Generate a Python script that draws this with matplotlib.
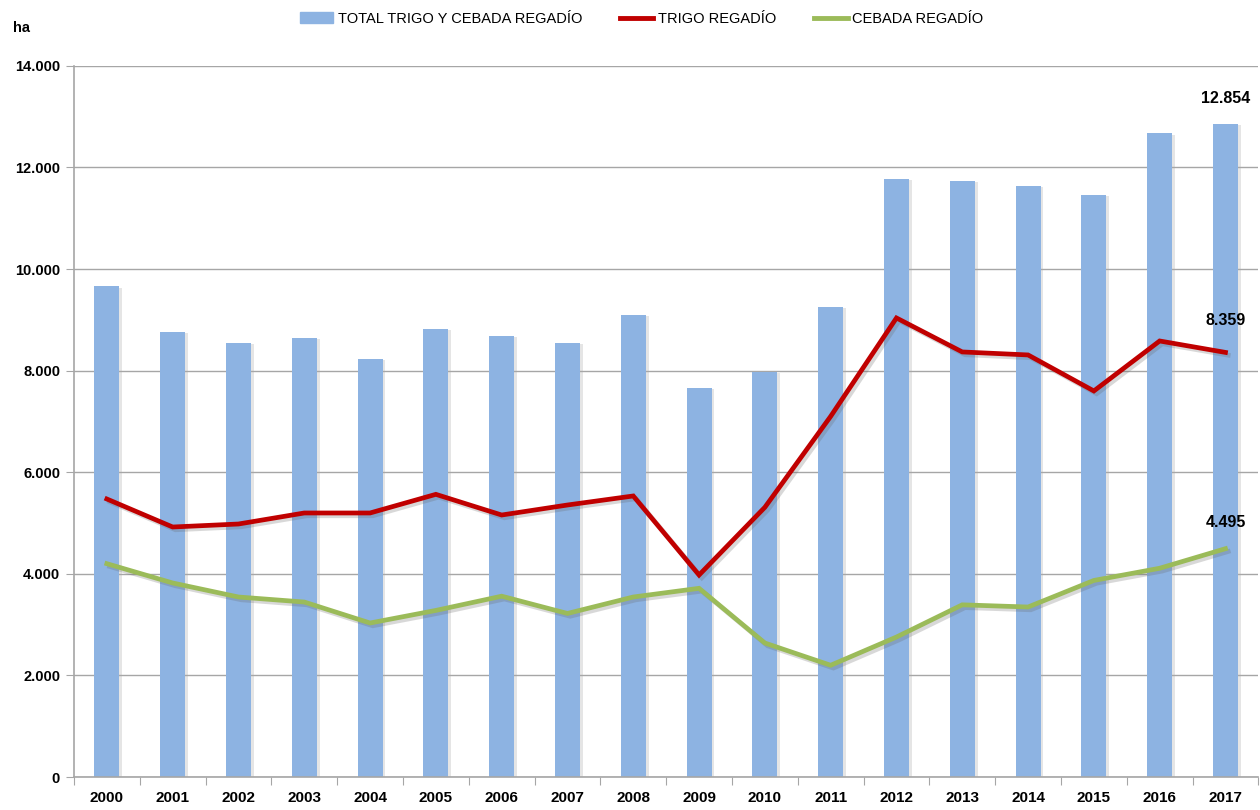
import numpy as np
import matplotlib
matplotlib.use('Agg')
import matplotlib.pyplot as plt
import matplotlib.patheffects as pe
from matplotlib.patches import Patch
from matplotlib.lines import Line2D
from matplotlib.ticker import FuncFormatter, FixedLocator

# datos (ha)
years = [str(y) for y in range(2000, 2018)]
total = [9660, 8770, 8545, 8643, 8230, 8820, 8690, 8545, 9096, 7660,
         7974, 9254, 11780, 11735, 11636, 11459, 12670, 12854]
trigo = [5473, 4922, 4981, 5198, 5198, 5565, 5158, 5355, 5533, 3977,
         5310, 7100, 9037, 8368, 8309, 7600, 8584, 8359]
cebada = [4200, 3820, 3544, 3445, 3032, 3280, 3560, 3220, 3544, 3715,
          2638, 2200, 2756, 3390, 3347, 3870, 4110, 4495]

c_total = '#8DB3E2'
c_trigo = '#C00000'
c_cebada = '#9BBB59'

plt.rcParams['font.family'] = ['Liberation Sans', 'DejaVu Sans']

fig = plt.figure(figsize=(12.6, 8.1), dpi=100)
ax = fig.add_axes([0.0587, 0.0407, 0.94, 0.878])

x = np.arange(len(years))
bar_shadow = [pe.SimplePatchShadow(offset=(2, -1), shadow_rgbFace='#aaaaaa', alpha=0.3), pe.Normal()]
line_shadow = [pe.SimpleLineShadow(offset=(2, -2), shadow_color='#666666', alpha=0.25), pe.Normal()]

bars = ax.bar(x, total, width=0.38, color=c_total, zorder=2)
for b in bars:
    b.set_path_effects(bar_shadow)
ax.plot(x, trigo, color=c_trigo, lw=3.4, zorder=3,
        path_effects=line_shadow, solid_joinstyle='miter')
ax.plot(x, cebada, color=c_cebada, lw=3.4, zorder=3,
        path_effects=line_shadow, solid_joinstyle='miter')

ax.set_xlim(-0.5, len(years) - 0.5)
ax.set_ylim(0, 14000)
ax.set_yticks(np.arange(0, 14001, 2000))
ax.yaxis.set_major_formatter(FuncFormatter(lambda v, p: f'{int(v):,}'.replace(',', '.')))
ax.grid(axis='y', color='#A6A6A6', lw=1, zorder=0)
ax.set_axisbelow(True)

ax.xaxis.set_major_locator(FixedLocator(np.arange(-0.5, len(years), 1)))
ax.xaxis.set_major_formatter(FuncFormatter(lambda v, p: ''))
ax.xaxis.set_minor_locator(FixedLocator(x))
ax.set_xticklabels(years, minor=True)
ax.tick_params(axis='x', which='major', length=6, color='#A6A6A6', direction='out')
ax.tick_params(axis='x', which='minor', length=0, pad=10, labelsize=11)
ax.tick_params(axis='y', length=6, color='#A6A6A6', pad=4, labelsize=10.5)
for lbl in ax.get_xticklabels(minor=True) + ax.get_yticklabels():
    lbl.set_fontweight('bold')

for s in ['top', 'right']:
    ax.spines[s].set_visible(False)
for s in ['left', 'bottom']:
    ax.spines[s].set_color('#A6A6A6')
    ax.spines[s].set_linewidth(1.2)

# etiquetas de 2017
def fmt(v):
    return f'{v:,}'.replace(',', '.')

ax.annotate(fmt(total[-1]), (x[-1], total[-1]), xytext=(0, 18), textcoords='offset pixels',
            ha='center', va='bottom', fontsize=11.5, fontweight='bold')
ax.annotate(fmt(trigo[-1]), (x[-1], trigo[-1]), xytext=(0, 24), textcoords='offset pixels',
            ha='center', va='bottom', fontsize=11.5, fontweight='bold')
ax.annotate(fmt(cebada[-1]), (x[-1], cebada[-1]), xytext=(0, 19), textcoords='offset pixels',
            ha='center', va='bottom', fontsize=11.5, fontweight='bold')

fig.text(0.01, 0.965, 'ha', fontsize=10.5, fontweight='bold', va='center')

handles = [Patch(color=c_total),
           Line2D([], [], color=c_trigo, lw=3.5),
           Line2D([], [], color=c_cebada, lw=3.5)]
labels = ['TOTAL TRIGO Y CEBADA REGADÍO', 'TRIGO REGADÍO', 'CEBADA REGADÍO']
fig.legend(handles, labels, loc='center', bbox_to_anchor=(0.509, 0.977), ncol=3, frameon=False,
           prop={'size': 10.5}, handlelength=2.3, handleheight=0.7,
           columnspacing=2.6, handletextpad=0.3)

fig.savefig('out.png', dpi=100)
